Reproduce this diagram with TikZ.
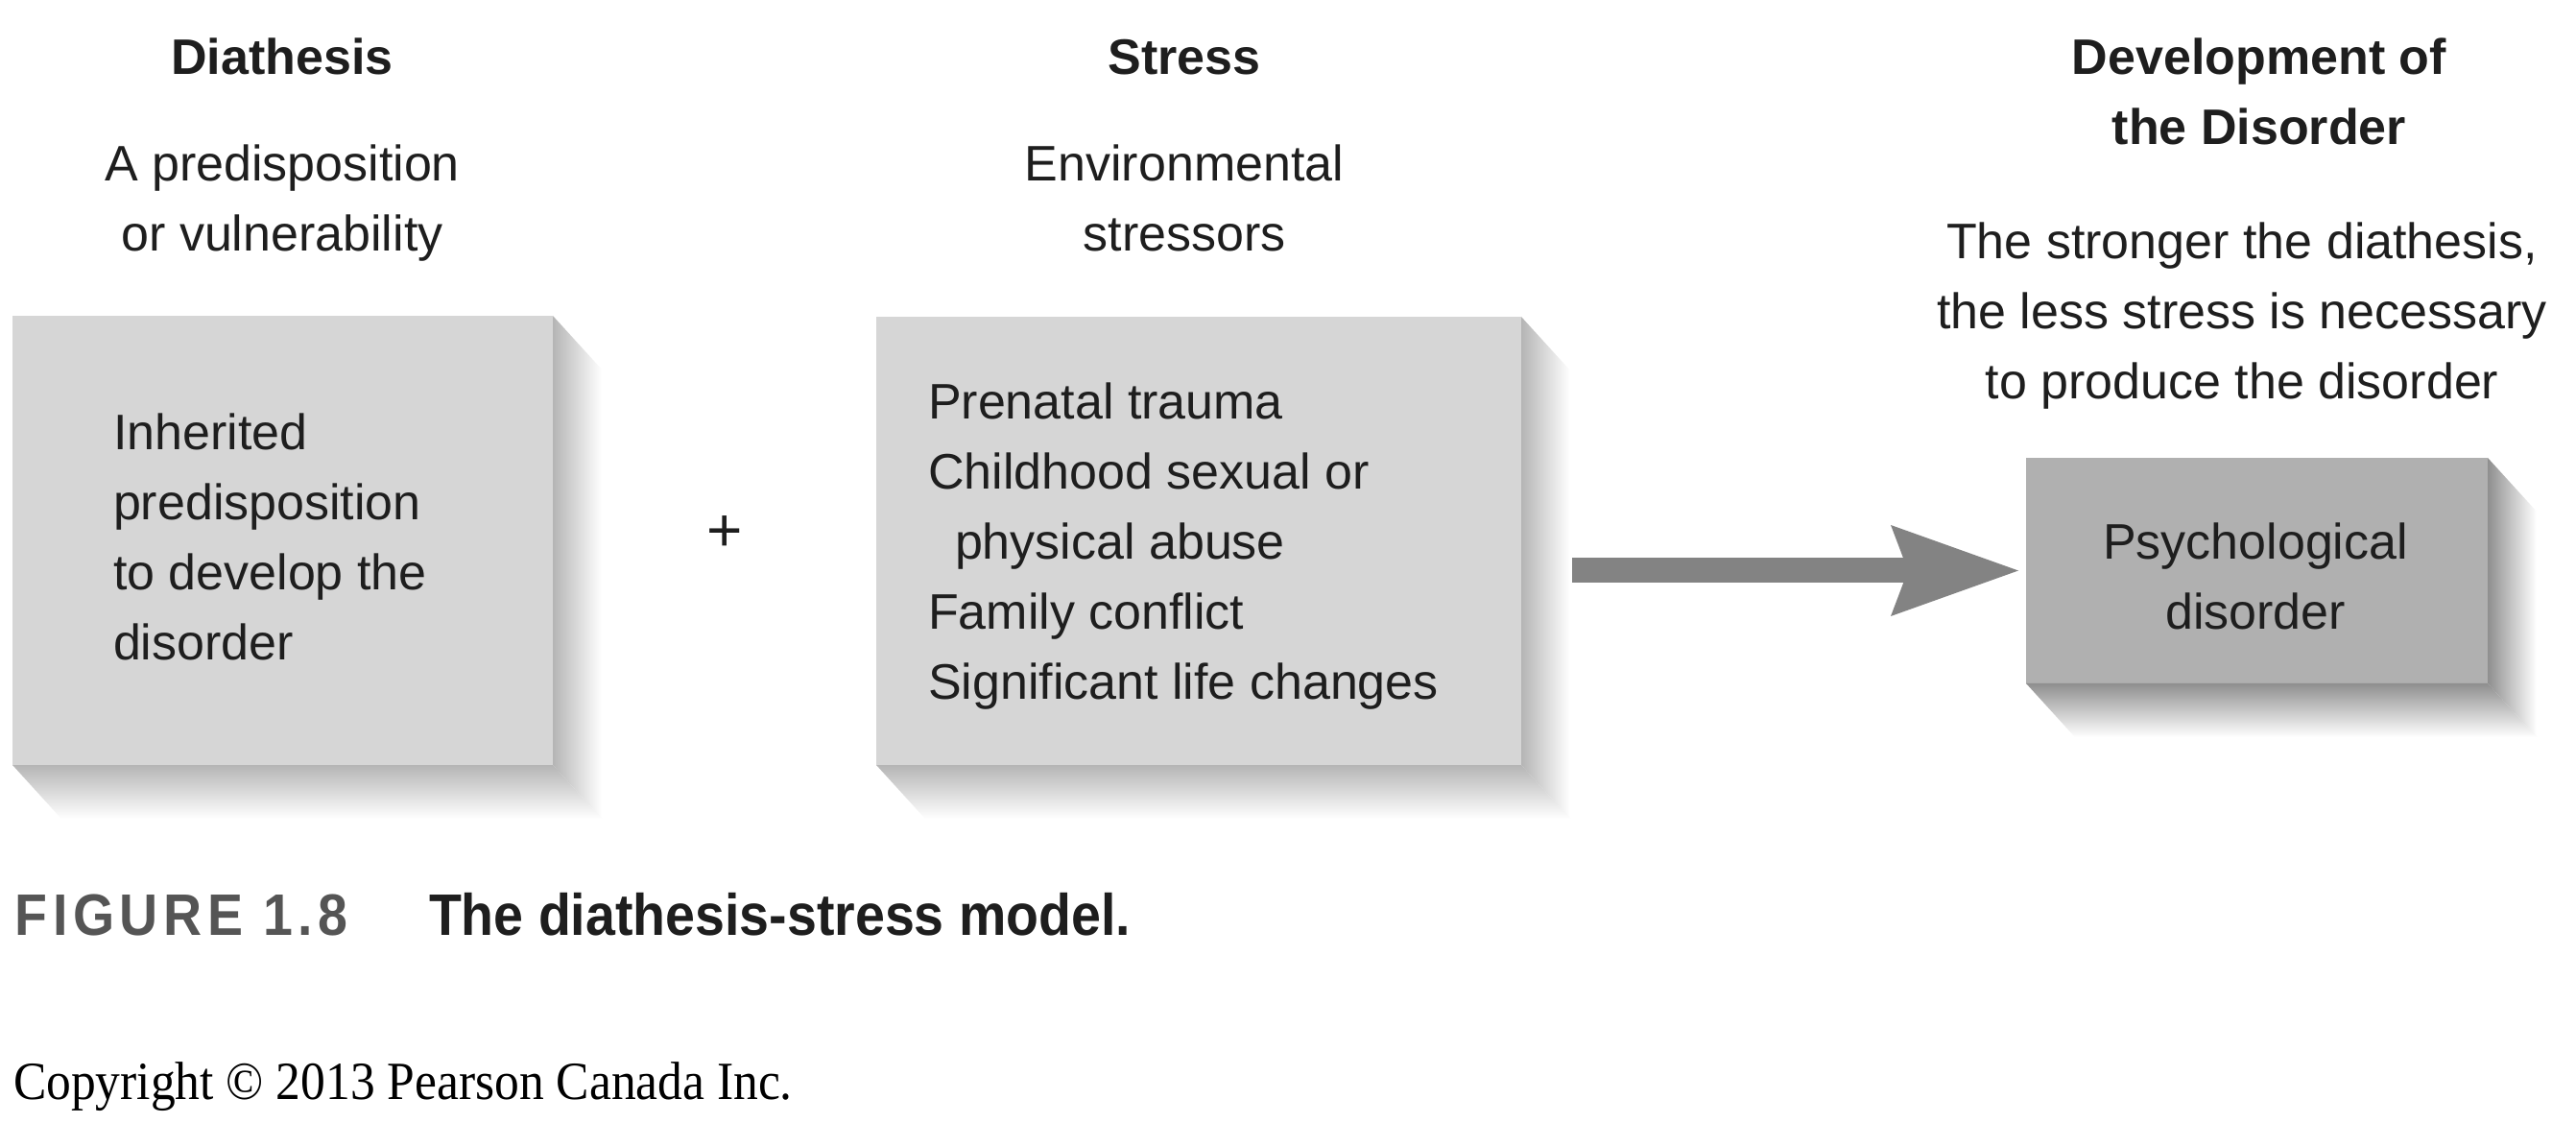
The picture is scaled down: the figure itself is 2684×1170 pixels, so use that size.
\documentclass[tikz,border=0pt]{standalone}
\usepackage{fontspec}
\setmainfont{Liberation Sans}
\newfontfamily\capfont[FakeStretch=0.91]{Liberation Sans}
\newfontfamily\capfontsp[FakeStretch=0.91,LetterSpace=9]{Liberation Sans}
\newfontfamily\copyfont[FakeStretch=0.92]{Liberation Serif}
\usetikzlibrary{arrows.meta,calc}
\definecolor{faceL}{HTML}{D6D6D6}
\definecolor{faceD}{HTML}{B0B0B0}
\definecolor{arrowC}{HTML}{838383}
\definecolor{inkC}{HTML}{1E1E1E}
\definecolor{figC}{HTML}{555555}
\newcommand\mltext[2]{\begin{tabular}[t]{@{}#1@{}}#2\end{tabular}}
\tikzset{
  body/.style={font=\fontsize{26pt}{36.5pt}\selectfont},
  head/.style={font=\fontsize{26pt}{36.5pt}\selectfont\bfseries},
  facelight/.style={fill=faceL, draw=none, anchor=north west},
  facedark/.style={fill=faceD, draw=none, anchor=north west},
  sidelight/.style={left color=gray!58, right color=white},
  bottomlight/.style={top color=gray!58, bottom color=white},
  sidedark/.style={left color=black!44, right color=white},
  bottomdark/.style={top color=black!44, bottom color=white},
  flow/.style={draw=arrowC, line width=13pt,
    -{Stealth[length=66.5pt,width=47.5pt,inset=9pt,line width=0pt]}}
}
\begin{document}
\begin{tikzpicture}[x=0.5pt,y=-0.5pt,
  every node/.style={inner sep=0pt, outer sep=0pt, text=inkC}]
\useasboundingbox (0,0) rectangle (2684,1170);
\fill[white] (0,0) rectangle (2684,1170);

% boxes (front faces)
\node[facelight, minimum width=281.5pt, minimum height=234pt] (box1) at (13,329) {};
\node[facelight, minimum width=336pt, minimum height=233.5pt] (box2) at (913,330) {};
\node[facedark, minimum width=240.5pt, minimum height=117.5pt] (box3) at (2111,477) {};

% extrusions / shadows
\foreach \b/\sd/\bt in {box1/sidelight/bottomlight, box2/sidelight/bottomlight, box3/sidedark/bottomdark}{
  \shade[\sd] (\b.north east) -- ($(\b.north east)+(51,56)$) -- ($(\b.south east)+(51,56)$) -- (\b.south east) -- cycle;
  \shade[\bt] (\b.south west) -- (\b.south east) -- ($(\b.south east)+(51,56)$) -- ($(\b.south west)+(51,56)$) -- cycle;
}

% box texts
\node[body, anchor=base west] (t1) at (118,469)
  {\mltext{l}{Inherited\\predisposition\\to develop the\\disorder}};
\node[body, anchor=base west] (t2) at (967,437)
  {\mltext{l}{Prenatal trauma\\Childhood sexual or\\\hspace*{14pt}physical abuse\\Family conflict\\Significant life changes}};
\node[body, anchor=base] (t3) at (2350,583)
  {\mltext{c}{Psychological\\disorder}};

% headings
\node[head, anchor=base] (h1) at (294,78) {Diathesis};
\node[body, anchor=base] (s1) at (294,189) {\mltext{c}{A predisposition\\or vulnerability}};
\node[head, anchor=base] (h2) at (1234,78) {Stress};
\node[body, anchor=base] (s2) at (1234,189) {\mltext{c}{Environmental\\stressors}};
\node[head, anchor=base] (h3) at (2354,78) {\mltext{c}{Development of\\the Disorder}};
\node[body, anchor=base] (s3) at (2336,270)
  {\mltext{c}{The stronger the diathesis,\\the less stress is necessary\\to produce the disorder}};

% plus
\node[font=\fontsize{32pt}{36pt}\selectfont] (plus) at (755,556) {+};

% arrow
\coordinate (arrowstart) at ($(box2.east)+(53,0)$);
\draw[flow, shorten >=4pt] (arrowstart |- box3.west) -- (box3.west);

% caption
\node[anchor=base west, text=figC, font=\capfontsp\fontsize{30.5pt}{36pt}\selectfont\bfseries] (figlabel) at (16,974) {FIGURE 1.8};
\node[anchor=base west, font=\capfont\fontsize{30.5pt}{36pt}\selectfont\bfseries] (figtitle) at (447,974) {The diathesis-stress model.};
\node[anchor=base west, text=black, font=\copyfont\fontsize{28pt}{34pt}\selectfont] (copyr) at (14,1145) {Copyright © 2013 Pearson Canada Inc.};
\end{tikzpicture}
\end{document}
